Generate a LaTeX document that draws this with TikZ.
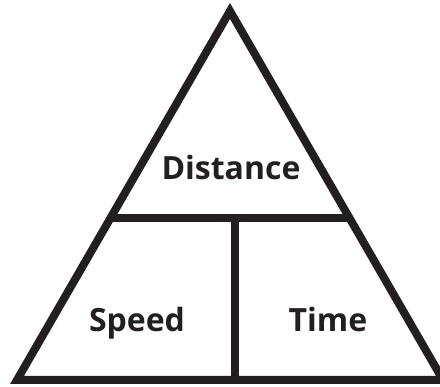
\documentclass[tikz,border=0pt]{standalone}
\usepackage{fontspec}
\setmainfont{Open Sans}[BoldFont={* Bold}]
\definecolor{ink}{HTML}{231F20}
\begin{document}
\begin{tikzpicture}[x=1pt,y=-1pt,
  edge/.style={draw=ink,line width=8pt,line join=miter},
  lbl/.style={anchor=base,text=ink,font=\fontsize{32}{38}\selectfont\bfseries,inner sep=0pt}]
\useasboundingbox (0,0) rectangle (440,387);
\coordinate (apex) at (230,11);
\coordinate (bl) at (17,380);
\coordinate (br) at (443,380);
\coordinate (ml) at (110.5,218);
\coordinate (mr) at (349.5,218);
\coordinate (vt) at (234.5,218);
\coordinate (vb) at (234.5,380);
\draw[edge] (apex) -- (br) -- (bl) -- cycle;
\draw[edge] (ml) -- (mr);
\draw[edge] (vt) -- (vb);
\node[lbl] (dist) at (231,180) {Distance};
\node[lbl] (speed) at (137,332) {Speed};
\node[lbl] (time) at (328,332) {Time};
\end{tikzpicture}
\end{document}
